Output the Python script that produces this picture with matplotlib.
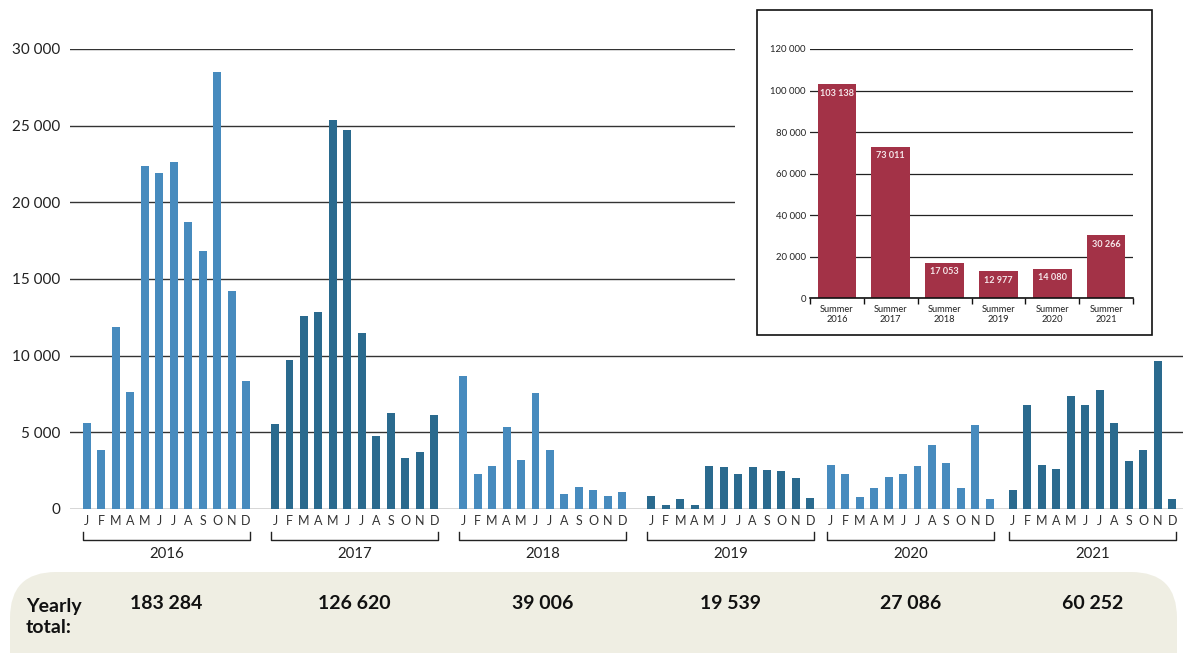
import matplotlib
matplotlib.use("Agg")
import matplotlib.pyplot as plt
from matplotlib.patches import FancyBboxPatch, Rectangle
import numpy as np

plt.rcParams['font.family'] = ['Lato', 'DejaVu Sans']

# monthly values
years = ['2016', '2017', '2018', '2019', '2020', '2021']
months = list('JFMAMJJASOND')
m2016 = [5640, 3870, 11840, 7660, 22400, 21890, 22600, 18740, 16850, 28470, 14250, 8380]
m2017 = [5570, 9750, 12560, 12880, 25350, 24700, 11510, 4790, 6290, 3350, 3750, 6160]
m2018 = [8700, 2280, 2800, 5340, 3200, 7560, 3850, 1000, 1440, 1250, 860, 1120]
m2019 = [860, 280, 660, 280, 2800, 2730, 2280, 2730, 2540, 2470, 2030, 730]
m2020 = [2850, 2270, 790, 1370, 2070, 2270, 2790, 4200, 2980, 1370, 5500, 660]
m2021 = [1250, 6760, 2870, 2600, 7350, 6760, 7740, 5590, 3130, 3840, 9620, 670]
monthly = [m2016, m2017, m2018, m2019, m2020, m2021]
yearly_totals = [183284, 126620, 39006, 19539, 27086, 60252]

summer_labels = ['Summer\n2016', 'Summer\n2017', 'Summer\n2018',
                 'Summer\n2019', 'Summer\n2020', 'Summer\n2021']
summer_totals = [103138, 73011, 17053, 12977, 14080, 30266]

light = '#478BBE'
dark = '#2A6A8E'
wine = '#A33247'
year_start = [0, 13, 26, 39, 51.4, 64]


def fmt(v):
    return f"{v:,}".replace(',', ' ')


W, H = 1193, 653
fig = plt.figure(figsize=(W / 100, H / 100), dpi=100)

# background layer in pixel coords (yearly total band)
bg = fig.add_axes([0, 0, 1, 1], zorder=-1)
bg.set_xlim(0, W)
bg.set_ylim(H, 0)
bg.axis('off')
bg.add_patch(FancyBboxPatch((10, 572), 1167, 130, boxstyle="round,pad=0,rounding_size=46",
                            fc='#EFEEE3', ec='none'))
bg.text(26, 617, 'Yearly\ntotal:', ha='left', va='center', fontsize=14,
        fontweight='bold', linespacing=1.25, color='#111')

# main chart
ax = fig.add_axes([70 / W, 1 - 509 / H, 1113 / W, 460 / H], zorder=0)
ax.set_facecolor('none')
xticks = []
for k, (vals, start) in enumerate(zip(monthly, year_start)):
    x = start + np.arange(12)
    xticks.extend(x)
    ax.bar(x, vals, width=0.55, color=light if k % 2 == 0 else dark, zorder=2)

ax.set_xlim(-1.17, 75.75)
ax.set_ylim(0, 30000)
ax.set_yticks(range(0, 30001, 5000))
ax.set_yticklabels([fmt(v) for v in range(0, 30001, 5000)])
ax.yaxis.grid(True, color='#333333', lw=1.0, zorder=1)
ax.set_xticks(xticks)
ax.set_xticklabels(months * len(years))
ax.tick_params(axis='y', length=0, pad=7.2, labelsize=11, labelcolor='#222')
ax.tick_params(axis='x', length=0, pad=4, labelsize=9, labelcolor='#333')
for s in ax.spines.values():
    s.set_visible(False)

trans = ax.get_xaxis_transform()
for start, yr, tot in zip(year_start, years, yearly_totals):
    x0, x1 = start - 0.275, start + 11 + 0.275
    ax.plot([x0, x0, x1, x1], [-0.05, -0.0674, -0.0674, -0.05], transform=trans,
            clip_on=False, color='#222', lw=1.0)
    ax.text((x0 + x1) / 2, -0.097, yr, transform=trans, ha='center', va='center',
            fontsize=10.8, color='#222')
    ax.text((x0 + x1) / 2, -0.205, fmt(tot), transform=trans, ha='center', va='center',
            fontsize=14, fontweight='bold', color='#111')

# white mask + frame for the inset
top = fig.add_axes([0, 0, 1, 1], zorder=3)
top.set_xlim(0, W)
top.set_ylim(H, 0)
top.axis('off')
top.add_patch(Rectangle((735, 0), W - 735, 343, fc='white', ec='none'))
top.add_patch(Rectangle((757, 10), 395, 325, fc='white', ec='#111', lw=1.2))

# inset: summer totals
ins = fig.add_axes([810 / W, 1 - 298 / H, 323 / W, 249 / H], zorder=4)
ins.set_facecolor('none')
ins.bar(range(len(summer_totals)), summer_totals, width=0.72, color=wine, zorder=2)
ins.set_xlim(-0.5, 5.5)
ins.set_ylim(0, 120000)
ins.set_yticks(range(0, 120001, 20000))
ins.set_yticklabels([fmt(v) for v in range(0, 120001, 20000)])
ins.yaxis.grid(True, color='#222', lw=0.9, zorder=1)
ins.set_xticks(range(len(summer_labels)))
ins.set_xticklabels(summer_labels, linespacing=1.15)
ins.set_xticks(np.arange(-0.5, 6, 1), minor=True)
ins.tick_params(axis='x', which='major', length=0, pad=5, labelsize=6.7, labelcolor='#222')
ins.tick_params(axis='x', which='minor', length=4, width=1, color='#111')
ins.tick_params(axis='y', length=0, pad=3, labelsize=6.9, labelcolor='#222')
for s in ['top', 'right', 'left']:
    ins.spines[s].set_visible(False)
ins.spines['bottom'].set_color('#111')
ins.spines['bottom'].set_linewidth(1.2)
for i, v in enumerate(summer_totals):
    ins.annotate(fmt(v), (i, v), xytext=(0, -6.5), textcoords='offset points',
                 ha='center', va='center', color='#F5E6E9', fontsize=6.6,
                 fontweight='bold', zorder=3)

fig.savefig('out.png', dpi=100)
